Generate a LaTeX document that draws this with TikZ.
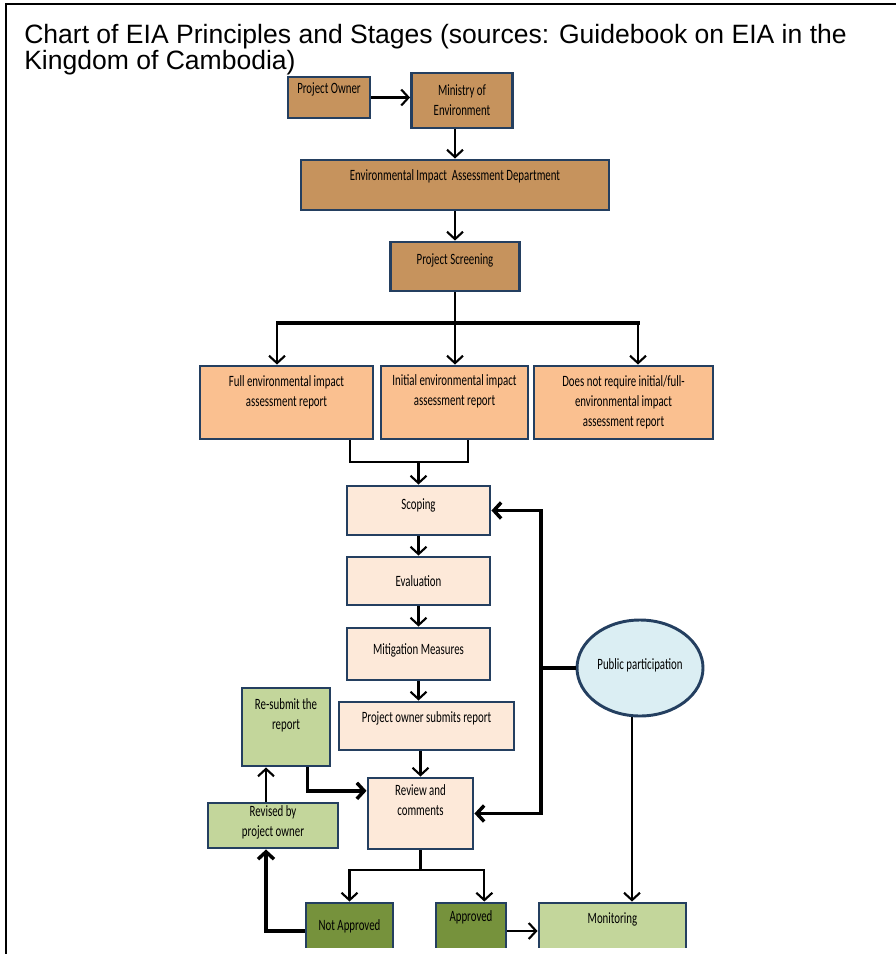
\documentclass[tikz,border=0pt]{standalone}
\usepackage{fontspec}
\newfontfamily\titlefont{Liberation Sans}
\newfontfamily\boxfont[FakeStretch=0.69]{Carlito}
\usetikzlibrary{arrows.meta,shapes.geometric}

\definecolor{edge}{HTML}{243F60}
\definecolor{brownbox}{HTML}{C6935D}
\definecolor{peach}{HTML}{FAC090}
\definecolor{cream}{HTML}{FDE9D9}
\definecolor{lgreen}{HTML}{C3D69B}
\definecolor{dgreen}{HTML}{76923C}
\definecolor{sky}{HTML}{DBEEF3}

\begin{document}
\begin{tikzpicture}[x=0.75pt, y=-0.75pt, >={Straight Barb[length=5.5pt,width=12pt]},
  box/.style={draw=edge, line width=2.2pt, inner sep=0pt},
  wh/.style 2 args={minimum width=#1*0.75pt, minimum height=#2*0.75pt},
  every label/.style={font=\boxfont\fontsize{11.8}{15}\selectfont, align=center, inner sep=0pt},
  conn/.style={line width=1.6pt},
  heavy/.style={line width=2.6pt}]
  \useasboundingbox (0,0) rectangle (896,954);

  % frame and title
  \draw[line width=1.1pt] (6,954) -- (6,4) -- (896,4);
  \node[font=\titlefont\fontsize{19.9}{22}\selectfont, anchor=base west, inner sep=0pt] (t1) at (24,43)
    {Chart of EIA Principles and Stages (sources: Guidebook on EIA in the};
  \node[font=\titlefont\fontsize{19.9}{22}\selectfont, anchor=base west, inner sep=0pt] (t2) at (24,69)
    {Kingdom of Cambodia)};

  % top part
  \node[box, fill=brownbox, wh={82}{41}, label={[yshift=6pt]center:Project Owner}] (po) at (329,97.5) {};
  \node[box, fill=brownbox, wh={101}{55}, label={center:{Ministry of\\Environment}}] (moe) at (462,100.5) {};
  \node[box, fill=brownbox, wh={308}{50}, label={[yshift=6.75pt]center:Environmental Impact\ \ Assessment Department}] (eia) at (455,185) {};
  \node[box, fill=brownbox, wh={129}{49}, label={[yshift=4.5pt]center:Project Screening}] (scr) at (455,266.5) {};

  \node[box, fill=peach, wh={173}{73}, label={[yshift=7.5pt]center:{Full environmental impact\\assessment report}}] (full) at (286.5,402.5) {};
  \node[box, fill=peach, wh={147}{73}, label={[yshift=8.25pt]center:{Initial environmental impact\\assessment report}}] (ini) at (454.5,402.5) {};
  \node[box, fill=peach, wh={179}{73}, label={center:{Does not require initial/full-\\environmental impact\\assessment report}}] (dn) at (623.5,402.5) {};

  % assessment steps
  \node[box, fill=cream, wh={143}{49}, label={[yshift=3.75pt]center:Scoping}] (scop) at (418.5,510.5) {};
  \node[box, fill=cream, wh={143}{48}, label={center:Evaluation}] (eval) at (418.5,581) {};
  \node[box, fill=cream, wh={143}{52}, label={[yshift=3pt]center:Mitigation Measures}] (mit) at (418.5,654) {};
  \node[box, fill=cream, wh={175}{48}, label={[yshift=6pt]center:Project owner submits report}] (sub) at (426.5,726) {};
  \node[box, fill=cream, wh={105}{71}, label={[yshift=9.75pt]center:{Review and\\comments}}] (rev) at (420.5,813.5) {};

  \node[box, fill=lgreen, wh={88}{78}, label={[yshift=9pt]center:{Re-submit the\\report}}] (rsb) at (286,727) {};
  \node[box, fill=lgreen, wh={130}{45}, label={[yshift=2.25pt]center:{Revised by\\project owner}}] (rvd) at (273,825.5) {};
  \node[box, ellipse, fill=sky, wh={126}{96}, label={[yshift=2.25pt]center:Public participation}] (pp) at (640,668) {};

  \begin{scope}
    \clip (0,0) rectangle (896,947);
    \node[box, fill=dgreen, wh={87}{56}, label={[yshift=3.75pt]center:Not Approved}] (na) at (349.5,931) {};
    \node[box, fill=dgreen, wh={70}{56}, label={[yshift=10.5pt]center:Approved}] (ap) at (471,931) {};
    \node[box, fill=lgreen, wh={147}{56}, label={[yshift=9pt]center:Monitoring}] (mon) at (612.5,931) {};
  \end{scope}

  % connectors
  \draw[conn,->] (po.east) -- (po.east -| moe.west);
  \draw[conn,->] (moe.south -| eia.north) -- (eia.north);
  \draw[conn,->] (eia) -- (scr);

  \coordinate (bl) at (276,323);
  \coordinate (br) at (640,323);
  \draw[conn] (scr.south) -- (scr.south |- bl);
  \draw[heavy] (bl) -- (br);
  \foreach \n/\x in {full/277,ini/455,dn/638} {
    \draw[conn,->] (\x,323) -- (\x,323 |- \n.north);
  }

  \coordinate (ja) at (350,462);
  \coordinate (jb) at (468,462);
  \draw[conn] (ja |- full.south) -- (ja) -- (jb) -- (jb |- ini.south);
  \draw[conn,->] (scop.north |- ja) -- (scop.north);

  \foreach \a/\b in {scop/eval,eval/mit,mit/sub} {
    \draw[conn,->] (\a.south) -- (\a.south |- \b.north);
  }
  \draw[conn,->] (sub.south -| rev.north) -- (rev.north);

  % public participation feedback
  \coordinate (fb) at (541,0);
  \draw[heavy] (pp.west) -- (pp.west -| fb);
  \draw[heavy,<->] (scop.east) -- (scop.east -| fb) -- (rev.east -| fb) -- (rev.east);
  \draw[conn,->] ([xshift=-6pt]pp.south) -- ([xshift=-6pt]pp.south |- mon.north);

  % decision
  \coordinate (jr) at (0,870);
  \draw[conn,->] (rev.south) -- (rev.south |- jr) -| (na.north);
  \draw[conn,->] (rev.south |- jr) -| ([xshift=10pt]ap.north);
  \draw[conn,->] (ap.east) -- (mon.west);

  \coordinate (lp) at (266,0);
  \draw[heavy,->] (na.west) -| (lp |- rvd.south);
  \draw[conn,->] (lp |- rvd.north) -- (lp |- rsb.south);
  \draw[heavy,->] ([xshift=16pt]rsb.south) |- ([yshift=17pt]rev.west);
\end{tikzpicture}
\end{document}
